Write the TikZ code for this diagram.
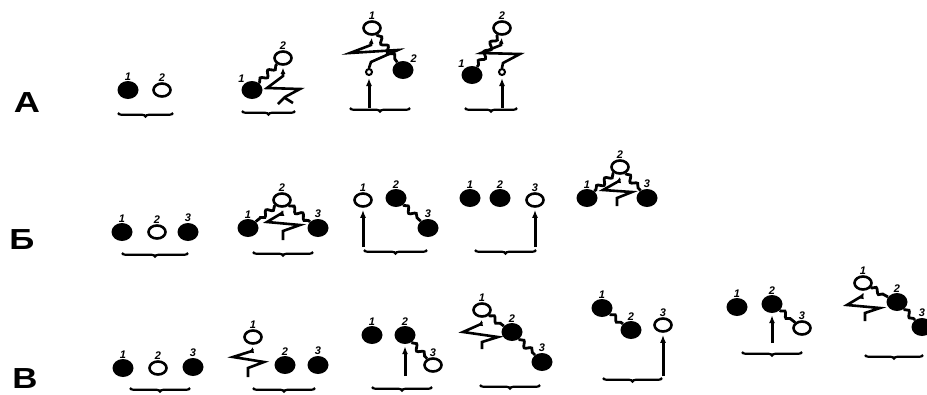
\documentclass[tikz,border=0pt]{standalone}
\usepackage{fontspec}
\setmainfont{Liberation Sans}
\usepackage{graphicx}
\usetikzlibrary{shapes.geometric,arrows.meta,decorations.pathmorphing,decorations.pathreplacing}
\tikzset{
  fc/.style={ellipse, fill=black, minimum width=21pt, minimum height=18pt, inner sep=0pt},
  oc/.style={ellipse, draw=black, line width=2.6pt, minimum width=17pt, minimum height=13pt, inner sep=0pt},
  sc/.style={circle, draw=black, line width=2pt, minimum size=6pt, inner sep=0pt},
  lab/.style={font=\fontsize{11}{11}\selectfont\bfseries\itshape, inner sep=0pt},
  every label/.style={lab},
  label distance=0.5pt,
  wavy/.style={line width=2.8pt, decorate, decoration={snake, amplitude=2.6pt, segment length=11pt, pre length=1pt, post length=1pt}},
  zz/.style={line width=2.6pt, line join=miter, -{Latex[length=6pt,width=5pt]}, shorten >=2pt},
  arr/.style={line width=3pt, -{Latex[length=8pt,width=6pt]}, shorten >=2pt},
  brc/.style={line width=2.2pt, decorate, decoration={brace, amplitude=3.5pt}},
  rowlab/.style={font=\fontsize{29}{29}\selectfont\bfseries, inner sep=0pt}
}
\begin{document}
\begin{tikzpicture}[x=1pt,y=-1pt]
\clip (0,0) rectangle (927,394);
\fill[white] (0,0) rectangle (927,394);

% ---------- Row A ----------
\node[rowlab] (rA) at (27,103) {\scalebox{1.25}[1]{A}};
% A1
\node[fc, label=above:1] (a11) at (128,90) {};
\node[oc, label=above:2] (a12) at (162,90) {};
\draw[brc] (173,113) -- (118,113);
% A2
\node[fc, label={above left:1}] (a21) at (252,90) {};
\node[oc, label=above:2] (a22) at (283,58) {};
\draw[wavy] (a21) -- (a22);
\coordinate (za2) at (278,104);
\draw[zz] (za2) -- (285,97) -- (300,89) -- (267,88) -- (283,76) -- (a22.south);
\draw[line width=2.6pt] (285,98) -- (293,103);
\draw[brc] (295,111) -- (242,111);
% A3
\node[oc, label=above:1] (a31) at (372,28) {};
\node[sc] (s3) at (369,72) {};
\node[fc, label={above right:2}] (a32) at (403,70) {};
\draw[wavy] (a31) -- (a32);
\draw[zz] (s3.north) -- (371,62) -- (398,50) -- (350,53) -- (371,45) -- (a31.south);
\coordinate (pa3) at (369,108);
\draw[arr] (pa3) -- (s3.south);
\draw[brc] (410,108) -- (350,108);
% A4
\node[oc, label=above:2] (a42) at (502,28) {};
\node[sc] (s4) at (502,72) {};
\node[fc, label={above left:1}] (a41) at (472,75) {};
\draw[wavy] (a42) -- (a41);
\draw[zz] (s4.north) -- (503,63) -- (520,54) -- (481,53) -- (501,45) -- (a42.south);
\coordinate (pa4) at (502,108);
\draw[arr] (pa4) -- (s4.south);
\draw[brc] (517,108) -- (465,108);

% ---------- Row B (Б) ----------
\node[rowlab] (rB) at (22,240) {\scalebox{1.2}[1]{Б}};
% B1
\node[fc, label=above:1] (b11) at (122,232) {};
\node[oc, label=above:2] (b12) at (157,232) {};
\node[fc, label=above:3] (b13) at (188,232) {};
\draw[brc] (188,253) -- (122,253);
% B2
\node[oc, label=above:2] (b22) at (282,200) {};
\node[fc, label=above:1] (b21) at (248,228) {};
\node[fc, label=above:3] (b23) at (318,228) {};
\draw[wavy] (b22) -- (b21);
\draw[wavy] (b22) -- (b23);
\coordinate (zb2) at (283,240);
\draw[zz] (zb2) -- (283,231) -- (300,225) -- (267,222) -- (282,213) -- (b22.south);
\draw[brc] (313,252) -- (253,252);
% B3
\node[oc, label=above:1] (b31) at (363,200) {};
\node[fc, label=above:2] (b32) at (396,198) {};
\node[fc, label=above:3] (b33) at (428,228) {};
\draw[wavy] (b32) -- (b33);
\coordinate (pb3) at (363,247);
\draw[arr] (pb3) -- (b31.south);
\draw[brc] (427,250) -- (364,250);
% B4
\node[fc, label=above:1] (b41) at (470,198) {};
\node[fc, label=above:2] (b42) at (500,198) {};
\node[oc, label=above:3] (b43) at (535,200) {};
\coordinate (pb4) at (535,247);
\draw[arr] (pb4) -- (b43.south);
\draw[brc] (536,250) -- (475,250);
% B5
\node[oc, label=above:2] (b52) at (620,167) {};
\node[fc, label=above:1] (b51) at (587,198) {};
\node[fc, label=above:3] (b53) at (647,198) {};
\draw[wavy] (b52) -- (b51);
\draw[wavy] (b52) -- (b53);
\coordinate (zb5) at (617,206);
\draw[zz] (zb5) -- (617,198) -- (632,192) -- (603,190) -- (619,181) -- (b52.south);

% ---------- Row C (В) ----------
\node[rowlab] (rC) at (25,379) {\scalebox{1.2}[1]{В}};
% C1
\node[fc, label=above:1] (c11) at (123,368) {};
\node[oc, label=above:2] (c12) at (158,368) {};
\node[fc, label=above:3] (c13) at (193,367) {};
\draw[brc] (190,388) -- (130,388);
% C2
\node[oc, label=above:1] (c21) at (253,337) {};
\node[fc, label=above:2] (c22) at (285,365) {};
\node[fc, label=above:3] (c23) at (318,365) {};
\coordinate (zc2) at (248,377);
\draw[zz] (zc2) -- (248,368) -- (264,362) -- (233,357) -- (252,351) -- (c21.south);
\draw[brc] (315,388) -- (253,388);
% C3
\node[fc, label=above:1] (c31) at (372,335) {};
\node[fc, label=above:2] (c32) at (405,335) {};
\node[oc, label=above:3] (c33) at (433,365) {};
\draw[wavy] (c32) -- (c33);
\coordinate (pc3) at (405,376);
\draw[arr] (pc3) -- (c32.south);
\draw[brc] (432,387) -- (372,387);
% C4
\node[oc, label=above:1] (c41) at (482,310) {};
\node[fc, label=above:2] (c42) at (512,332) {};
\node[fc, label=above:3] (c43) at (542,362) {};
\draw[wavy] (c41) -- (c42);
\draw[wavy] (c42) -- (c43);
\coordinate (zc4) at (482,349);
\draw[zz] (zc4) -- (482,342) -- (498,337) -- (463,332) -- (481,324) -- (c41.south);
\draw[brc] (540,385) -- (480,385);
% C5
\node[fc, label=above:1] (c51) at (602,308) {};
\node[fc, label=above:2] (c52) at (631,330) {};
\node[oc, label=above:3] (c53) at (663,325) {};
\draw[wavy] (c51) -- (c52);
\coordinate (pc5) at (663,376);
\draw[arr] (pc5) -- (c53.south);
\draw[brc] (662,378) -- (603,378);
% C6
\node[fc, label=above:1] (c61) at (737,307) {};
\node[fc, label=above:2] (c62) at (772,304) {};
\node[oc, label=above:3] (c63) at (802,328) {};
\draw[wavy] (c62) -- (c63);
\coordinate (pc6) at (772,343);
\draw[arr] (pc6) -- (c62.south);
\draw[brc] (802,352) -- (742,352);
% C7
\node[oc, label=above:1] (c71) at (863,283) {};
\node[fc, label=above:2] (c72) at (897,302) {};
\node[fc, label=above:3] (c73) at (922,327) {};
\draw[wavy] (c71) -- (c72);
\draw[wavy] (c72) -- (c73);
\coordinate (zc7) at (865,321);
\draw[zz] (zc7) -- (865,313) -- (880,308) -- (847,305) -- (862,296) -- (c71.south);
\draw[brc] (923,355) -- (865,355);
\end{tikzpicture}
\end{document}
